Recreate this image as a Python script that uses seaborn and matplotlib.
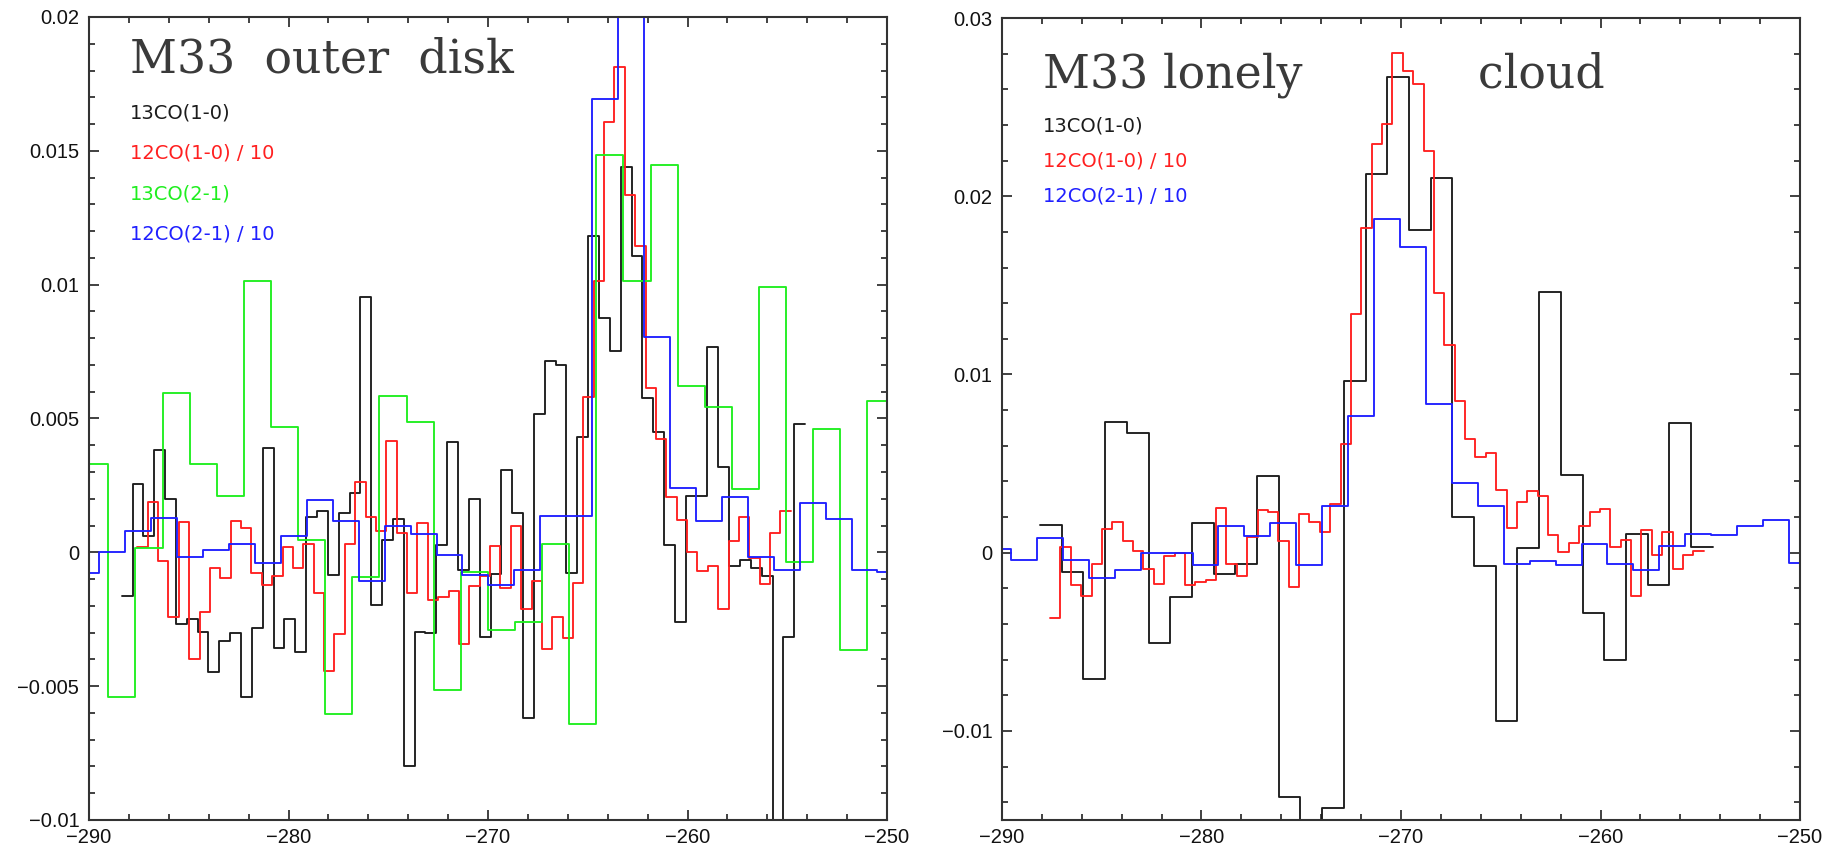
import numpy as np
import pandas as pd
import matplotlib
matplotlib.use("Agg")
import matplotlib.pyplot as plt
import seaborn as sns
from matplotlib.ticker import MultipleLocator, FuncFormatter

# ---------------- Data: M33 outer disk (left panel) ----------------
# each spectrum: first channel left edge (km/s), channel width (km/s), channel values
outer_13co10_start = -288.36
outer_13co10_width = 0.5437
outer_13co10 = [
    -0.00165, 0.00257, 0.00061, 0.00384, 0.00198, -0.00269, -0.00248, -0.00296, -0.00447, -0.00333,
    -0.00302, -0.00540, -0.00281, 0.00391, -0.00358, -0.00248, -0.00372, 0.00132, 0.00154, -0.00086,
    0.00148, 0.00223, 0.00953, -0.00198, 0.00046, 0.00126, -0.00797, -0.00296, -0.00303, 0.00027,
    0.00413, -0.00067, 0.00200, -0.00318, -0.00082, 0.00306, 0.00146, -0.00619, 0.00515, 0.00716,
    0.00698, -0.00078, 0.00431, 0.01183, 0.00875, 0.00752, 0.01438, 0.01106, 0.00575, 0.00450,
    0.00028, -0.00260, 0.00210, 0.00210, 0.00766, 0.00320, -0.00050, -0.00030, -0.00060, -0.00090,
    -0.01500, -0.00318, 0.00478]

outer_12co10_start = -287.58
outer_12co10_width = 0.520
outer_12co10 = [
    0.00020, 0.00189, -0.00034, -0.00240, 0.00112, -0.00400, -0.00222, -0.00060, -0.00095, 0.00117,
    0.00092, -0.00076, -0.00122, -0.00088, 0.00019, -0.00060, 0.00030, -0.00152, -0.00443, -0.00306,
    0.00030, 0.00264, 0.00132, 0.00078, 0.00415, 0.00072, -0.00152, 0.00111, -0.00178, -0.00168,
    -0.00144, -0.00342, -0.00126, -0.00088, 0.00024, -0.00135, 0.00100, -0.00210, -0.00106, -0.00360,
    -0.00240, -0.00320, -0.00114, 0.00580, 0.01015, 0.01606, 0.01812, 0.01336, 0.01146, 0.00614,
    0.00423, 0.00206, 0.00120, 0.00000, -0.00070, -0.00050, -0.00213, 0.00044, 0.00133, -0.00020,
    -0.00118, 0.00072, 0.00154]

outer_13co21_start = -290.39
outer_13co21_width = 1.359
outer_13co21 = [
    0.00331, -0.00542, 0.00017, 0.00596, 0.00331, 0.00210, 0.01015, 0.00469, 0.00045, -0.00604,
    -0.00094, 0.00583, 0.00486, -0.00515, -0.00073, -0.00290, -0.00260, 0.00032, -0.00642, 0.01483,
    0.01012, 0.01448, 0.00623, 0.00544, 0.00235, 0.00991, -0.00036, 0.00459, -0.00364, 0.00567]

outer_12co21_start = -290.78
outer_12co21_width = 1.30
outer_12co21 = [
    -0.00078, 0.00000, 0.00078, 0.00127, -0.00016, 0.00010, 0.00030, -0.00039, 0.00060, 0.00195,
    0.00117, -0.00107, 0.00098, 0.00070, -0.00010, -0.00085, -0.00122, -0.00067, 0.00135, 0.00135,
    0.01693, 0.02400, 0.00803, 0.00239, 0.00117, 0.00206, -0.00017, -0.00067, 0.00185, 0.00123,
    -0.00067, -0.00073]

# ---------------- Data: M33 lonely cloud (right panel) ----------------
lonely_13co10_start = -288.095
lonely_13co10_width = 1.0877
lonely_13co10 = [
    0.00157, -0.00110, -0.00711, 0.00736, 0.00670, -0.00506, -0.00248, 0.00166, -0.00118, -0.00062,
    0.00428, -0.01371, -0.01650, -0.01430, 0.00964, 0.02127, 0.02668, 0.01813, 0.02103, 0.00198,
    -0.00077, -0.00945, 0.00026, 0.01464, 0.00437, -0.00338, -0.00600, 0.00105, -0.00179, 0.00727,
    0.00032]

lonely_12co10_start = -287.59
lonely_12co10_width = 0.520
lonely_12co10 = [
    -0.00366, 0.00032, -0.00183, -0.00245, -0.00062, 0.00133, 0.00172, 0.00063, 0.00007, -0.00090,
    -0.00174, -0.00021, -0.00002, -0.00179, -0.00166, -0.00155, 0.00250, -0.00062, -0.00129, 0.00088,
    0.00237, 0.00228, 0.00063, -0.00194, 0.00218, 0.00172, 0.00114, 0.00275, 0.00611, 0.01337,
    0.01819, 0.02291, 0.02403, 0.02803, 0.02702, 0.02627, 0.02254, 0.01455, 0.01165, 0.00853,
    0.00639, 0.00536, 0.00562, 0.00349, 0.00138, 0.00284, 0.00344, 0.00316, 0.00097, 0.00002,
    0.00054, 0.00151, 0.00228, 0.00246, 0.00032, 0.00073, -0.00245, 0.00125, -0.00011, 0.00114,
    -0.00090, -0.00011, 0.00011]

lonely_12co21_start = -290.85
lonely_12co21_width = 1.30
lonely_12co21 = [
    0.00020, -0.00039, 0.00082, -0.00039, -0.00142, -0.00100, 0.00000, 0.00000, -0.00067, 0.00148,
    0.00095, 0.00166, -0.00071, 0.00263, 0.00769, 0.01871, 0.01716, 0.00835, 0.00390, 0.00263,
    -0.00062, -0.00049, -0.00071, 0.00050, -0.00062, -0.00100, 0.00035, 0.00106, 0.00100, 0.00148,
    0.00185, -0.00058]

outer_title = "M33  outer  disk"
lonely_title = "M33 lonely            cloud"
outer_labels = ["13CO(1-0)", "12CO(1-0) / 10", "13CO(2-1)", "12CO(2-1) / 10"]
lonely_labels = ["13CO(1-0)", "12CO(1-0) / 10", "12CO(2-1) / 10"]

# ---------------- Style ----------------
sns.set_style("ticks")
plt.rcParams["font.family"] = ["Liberation Sans", "DejaVu Sans"]
plt.rcParams["axes.unicode_minus"] = True

C_BLACK = "#1c1c1c"
C_RED = "#ff2020"
C_GREEN = "#20ee20"
C_BLUE = "#2020ff"
LW = 1.35


def spectrum_frame(start, width, values):
    vals = np.asarray(values, dtype=float)
    edges = start + width * np.arange(len(vals) + 1)
    return pd.DataFrame({"velocity": edges, "flux": np.append(vals, vals[-1])})


def draw(ax, start, width, values, color):
    df = spectrum_frame(start, width, values)
    sns.lineplot(data=df, x="velocity", y="flux", ax=ax, color=color, lw=LW,
                 drawstyle="steps-post", estimator=None, sort=False, legend=False)


def fmt(v, pos):
    s = "%g" % round(v, 6)
    if s in ("-0", "0"):
        return "0"
    return s.replace("-", "\u2212")


def style_axes(ax, ymin, ymax, ymajor, yminor):
    ax.set_xlim(-290, -250)
    ax.set_ylim(ymin, ymax)
    ax.xaxis.set_major_locator(MultipleLocator(10))
    ax.xaxis.set_minor_locator(MultipleLocator(2))
    ax.yaxis.set_major_locator(MultipleLocator(ymajor))
    ax.yaxis.set_minor_locator(MultipleLocator(yminor))
    ax.xaxis.set_major_formatter(FuncFormatter(fmt))
    ax.yaxis.set_major_formatter(FuncFormatter(fmt))
    ax.tick_params(which="both", direction="in", top=True, right=True,
                   color="#333333", width=1.3)
    ax.tick_params(which="major", length=7.5, labelsize=14.5, labelcolor="#111111")
    ax.tick_params(which="minor", length=4.2)
    ax.tick_params(axis="y", which="major", pad=7)
    ax.tick_params(axis="x", which="major", pad=6)
    for sp in ax.spines.values():
        sp.set_visible(True)
        sp.set_color("#333333")
        sp.set_linewidth(1.5)
    ax.set_xlabel("")
    ax.set_ylabel("")


fig = plt.figure(figsize=(18.32, 8.51), dpi=100)
ax1 = fig.add_axes([0.04858, 0.03643, 0.4356, 0.9436])
ax2 = fig.add_axes([0.54694, 0.03643, 0.4356, 0.9424])

# left panel
draw(ax1, outer_13co10_start, outer_13co10_width, outer_13co10, C_BLACK)
draw(ax1, outer_12co10_start, outer_12co10_width, outer_12co10, C_RED)
draw(ax1, outer_13co21_start, outer_13co21_width, outer_13co21, C_GREEN)
draw(ax1, outer_12co21_start, outer_12co21_width, outer_12co21, C_BLUE)
style_axes(ax1, -0.01, 0.02, 0.005, 0.001)

# right panel
draw(ax2, lonely_13co10_start, lonely_13co10_width, lonely_13co10, C_BLACK)
draw(ax2, lonely_12co10_start, lonely_12co10_width, lonely_12co10, C_RED)
draw(ax2, lonely_12co21_start, lonely_12co21_width, lonely_12co21, C_BLUE)
style_axes(ax2, -0.015, 0.03, 0.01, 0.002)

# titles and labels
title_kw = dict(fontfamily="DejaVu Serif", fontsize=33, color="#3a3a3a", va="baseline", ha="left")
ax1.text(-287.94, 0.01792, outer_title, **title_kw)
ax2.text(-287.93, 0.02611, lonely_title, **title_kw)

lab_kw = dict(fontfamily="DejaVu Sans", fontsize=14, va="baseline", ha="left")
outer_cols = [C_BLACK, C_RED, C_GREEN, C_BLUE]
outer_y = [0.01622, 0.01473, 0.01320, 0.01170]
for lab, col, yy in zip(outer_labels, outer_cols, outer_y):
    ax1.text(-287.94, yy, lab, color=col, **lab_kw)

lonely_cols = [C_BLACK, C_RED, C_BLUE]
lonely_y = [0.02363, 0.02166, 0.01970]
for lab, col, yy in zip(lonely_labels, lonely_cols, lonely_y):
    ax2.text(-287.93, yy, lab, color=col, **lab_kw)

fig.savefig("out.png", dpi=100, facecolor="white")
